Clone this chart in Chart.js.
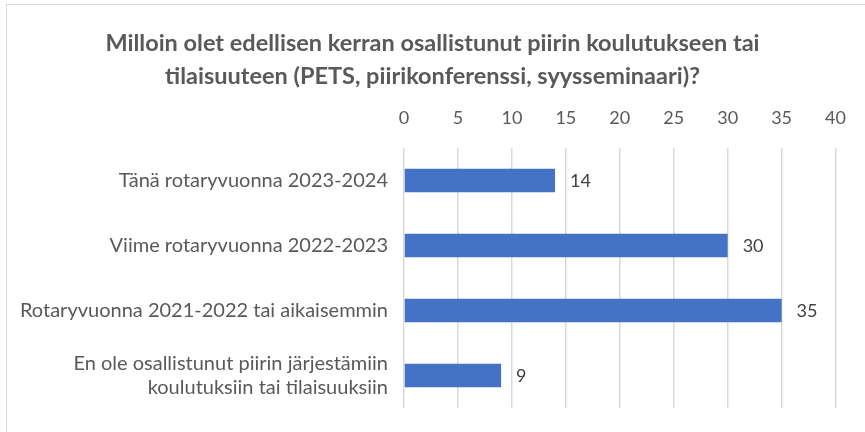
<!DOCTYPE html>
<html>
<head>
<meta charset="utf-8">
<script src="https://cdn.jsdelivr.net/npm/chart.js@4"></script>
<style>
html,body{margin:0;padding:0;background:#fff;overflow:hidden;}
#frame{position:absolute;left:6px;top:4px;width:900px;height:460px;border:1px solid #d9d9d9;box-sizing:border-box;}
#wrap{position:absolute;left:0;top:0;width:865px;height:432px;}
</style>
</head>
<body>
<div id="frame"></div>
<div id="wrap"><canvas id="c" width="865" height="432"></canvas></div>
<script>
const titleLines = ["Milloin olet edellisen kerran osallistunut piirin koulutukseen tai", "tilaisuuteen (PETS, piirikonferenssi, syysseminaari)?"];
const categories = [
  "Tänä rotaryvuonna 2023-2024",
  "Viime rotaryvuonna 2022-2023",
  "Rotaryvuonna 2021-2022 tai aikaisemmin",
  ["En ole osallistunut piirin järjestämiin", "koulutuksiin tai tilaisuuksiin"]
];
const values = [14, 30, 35, 9];
const xMin = 0, xMax = 40, xStep = 5;

const FONT = "Lato, 'Liberation Sans', sans-serif";

const labelPlugin = {
  id: 'barLabels',
  afterDatasetsDraw(chart) {
    const ctx = chart.ctx;
    const meta = chart.getDatasetMeta(0);
    ctx.save();
    ctx.font = "18px " + FONT;
    ctx.fillStyle = "#404040";
    ctx.textAlign = "left";
    ctx.textBaseline = "middle";
    meta.data.forEach((bar, i) => {
      ctx.fillText(String(values[i]), bar.x + 15, bar.y + 1);
    });
    ctx.restore();
  }
};

const titlePlugin = {
  id: 'centeredTitle',
  afterDraw(chart) {
    const ctx = chart.ctx;
    ctx.save();
    ctx.font = "bold 23.5px " + FONT;
    ctx.fillStyle = "#595959";
    ctx.textAlign = "center";
    ctx.textBaseline = "middle";
    titleLines.forEach((line, i) => {
      ctx.fillText(line, chart.width / 2, 43.5 + i * 33);
    });
    ctx.restore();
  }
};

new Chart(document.getElementById('c'), {
  type: 'bar',
  data: {
    labels: categories,
    datasets: [{
      data: values,
      backgroundColor: '#4472C4',
      borderWidth: 0,
      barPercentage: 0.36,
      categoryPercentage: 1
    }]
  },
  options: {
    indexAxis: 'y',
    responsive: false,
    animation: false,
    layout: { padding: { left: 0, right: 29, top: 105, bottom: 24 } },
    plugins: {
      legend: { display: false },
      tooltip: { enabled: false },
      title: { display: false }
    },
    scales: {
      x: {
        position: 'top',
        min: xMin,
        max: xMax,
        ticks: { stepSize: xStep, color: '#595959', font: { family: FONT, size: 18 }, padding: 19 },
        grid: { color: '#d9d9d9', lineWidth: 1.5, drawTicks: false },
        border: { display: false },
        afterFit(scale) { scale.height = 43; }
      },
      y: {
        ticks: { color: '#595959', font: { family: FONT, size: 20, lineHeight: 1.2 }, padding: 16 },
        grid: { display: false, drawTicks: false },
        border: { display: false },
        afterFit(scale) { scale.width = 404; scale.paddingTop = 0; scale.paddingBottom = 0; }
      }
    }
  },
  plugins: [labelPlugin, titlePlugin]
});
</script>
</body>
</html>
